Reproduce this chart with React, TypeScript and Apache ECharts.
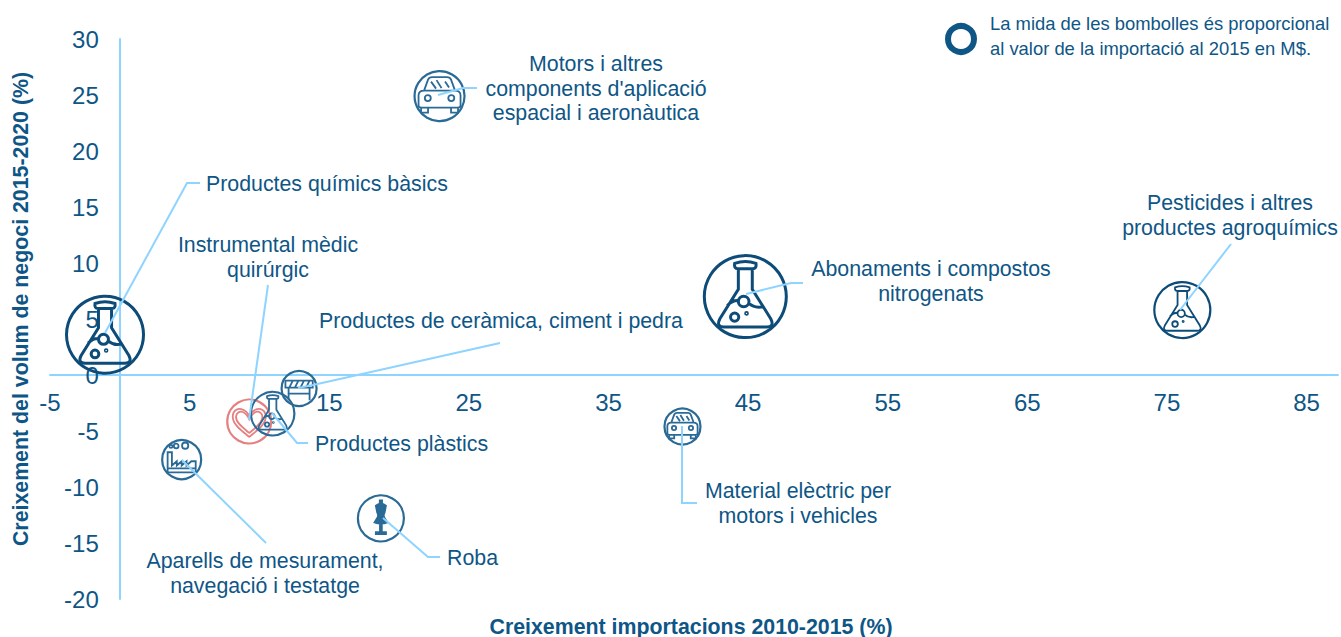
import React, { useEffect, useRef } from "react";
import * as echarts from "echarts";

const sectors = [
  "Productes químics bàsics",
  "Instrumental mèdic quirúrgic",
  "Productes plàstics",
  "Productes de ceràmica, ciment i pedra",
  "Aparells de mesurament, navegació i testatge",
  "Roba",
  "Motors i altres components d'aplicació espacial i aeronàutica",
  "Material elèctric per motors i vehicles",
  "Abonaments i compostos nitrogenats",
  "Pesticides i altres productes agroquímics",
];
const importGrowth = [-1.06, 9.27, 10.95, 12.84, 4.43, 18.7, 22.9, 40.3, 44.8, 76.1];
const businessGrowth = [3.6, -4.15, -3.45, -1.2, -7.56, -12.8, 24.9, -4.6, 7.0, 5.8];
const importValue = [1482, 484, 471, 306, 380, 529, 625, 324, 1681, 784];
const iconNames = ["flask", "heart", "flask", "table", "factory", "dress", "car", "car", "flask", "flask"];
const xTickLabels = [-5, 5, 15, 25, 35, 45, 55, 65, 75, 85];

const INK = "#0e5686";
const RING = "#0d4c78";
const RING_SMALL = "#2a6a96";
const LEADER = "#8ed4ff";
const HEART = "#e57f80";
const FONT = '"Liberation Sans", Arial, sans-serif';
const FS = 21.33;
const TICK_FS = 24;

const circle = (cx: number, cy: number, r: number) =>
  `M${cx + r} ${cy} A${r} ${r} 0 1 1 ${cx - r} ${cy} A${r} ${r} 0 1 1 ${cx + r} ${cy} Z `;

const icons: Record<string, { d: string; fill?: boolean }> = {
  flask: {
    d:
      "M-26 -81 Q0 -90 26 -81 Q28 -68 18 -68 L-18 -68 Q-28 -68 -26 -81 Z " +
      "M-17 -68 L-17 -18 L-62 54 Q-72 74 -52 74 L52 74 Q72 74 62 54 L17 -18 L17 -68 " +
      "M-44 22 Q-30 8 -16 10 M8 16 Q24 30 44 24 " +
      circle(-4, 12, 13) +
      circle(-26, 50, 10) +
      circle(3, 41, 2),
  },
  car: {
    d:
      "M-62 -22 L-46 -66 Q-42 -76 -30 -76 L30 -76 Q42 -76 46 -66 L62 -22 " +
      "M-84 -2 Q-84 -22 -62 -22 L62 -22 Q84 -22 84 -2 L84 38 Q84 46 74 46 L-74 46 Q-84 46 -84 38 Z " +
      "M-74 46 L-74 66 L-46 66 L-46 46 M46 46 L46 66 L74 66 L74 46 " +
      "M-34 -58 L-14 -30 M-12 -64 L8 -32 M22 -58 L38 -34 " +
      circle(-47, 8, 12) +
      circle(47, 8, 12),
  },
  heart: {
    d:
      "M0 70 C-30 45 -75 15 -75 -22 C-75 -50 -50 -62 -32 -55 C-18 -50 -6 -38 0 -25 C6 -38 18 -50 32 -55 C50 -62 75 -50 75 -22 C75 15 30 45 0 70 Z " +
      "M0 52 C-24 32 -60 8 -60 -20 C-60 -40 -42 -48 -30 -43 C-18 -38 -6 -24 0 -10 C6 -24 18 -38 30 -43 C42 -48 60 -40 60 -20 C60 8 24 32 0 52 Z",
  },
  table: {
    d:
      "M-78 -45 L78 -45 L78 -5 L-78 -5 Z M-60 -5 L-60 68 M60 -5 L60 68 M-60 30 L60 30 " +
      "M-56 -5 L-36 -45 M-24 -5 L-4 -45 M8 -5 L28 -45 M40 -5 L60 -45",
  },
  factory: {
    d:
      "M-72 65 L-72 -38 L-50 -38 L-50 30 L-25 8 L-25 30 L0 8 L0 30 L25 8 L25 30 L50 8 L72 8 L72 65 Z " +
      "M-72 45 L72 45 " +
      circle(-55, -68, 8) +
      circle(-28, -70, 12) +
      circle(18, -72, 16),
  },
  dress: {
    fill: true,
    d:
      "M-22 -55 Q0 -72 22 -55 L16 -25 Q10 -15 14 -5 L28 18 Q0 28 -28 18 L-14 -5 Q-10 -15 -16 -25 Z " +
      "M-4 20 L-4 60 L4 60 L4 20 Z M-22 60 L22 60 L22 68 L-22 68 Z M-5 -78 L5 -78 L5 -60 L-5 -60 Z",
  },
};

type Note = { lines: string[]; x: number; y: number; align: "left" | "center" };
const notes: Note[] = [
  { lines: ["Motors i altres", "components d'aplicació", "espacial i aeronàutica"], x: 596, y: 64, align: "center" },
  { lines: ["Productes químics bàsics"], x: 206, y: 183.5, align: "left" },
  { lines: ["Instrumental mèdic", "quirúrgic"], x: 268, y: 245, align: "center" },
  { lines: ["Productes de ceràmica, ciment i pedra"], x: 319, y: 321, align: "left" },
  { lines: ["Productes plàstics"], x: 315, y: 444, align: "left" },
  { lines: ["Aparells de mesurament,", "navegació i testatge"], x: 265, y: 561, align: "center" },
  { lines: ["Roba"], x: 447, y: 558, align: "left" },
  { lines: ["Material elèctric per", "motors i vehicles"], x: 798, y: 491, align: "center" },
  { lines: ["Abonaments i compostos", "nitrogenats"], x: 931, y: 269, align: "center" },
  { lines: ["Pesticides i altres", "productes agroquímics"], x: 1230, y: 203, align: "center" },
];

const leaders: number[][][] = [
  [[105, 333], [187, 183], [200, 183]],
  [[249, 420], [268, 285]],
  [[298, 388], [313, 385], [500, 343]],
  [[272, 413], [297, 443], [308, 443]],
  [[182, 460], [266, 543]],
  [[383, 518], [428, 557], [440, 557]],
  [[682, 426], [682, 503], [697, 503]],
  [[746, 294], [791, 283], [803, 283]],
  [[1180, 310], [1231, 244]],
  [[438, 95], [463, 88], [477, 88]],
];

function buildOption(): any {
  const graphic: any[] = [];
  leaders.forEach((pts) =>
    graphic.push({
      type: "polyline",
      z: 10,
      shape: { points: pts },
      style: { stroke: LEADER, lineWidth: 2, fill: "none" },
    })
  );
  notes.forEach((n) =>
    n.lines.forEach((line, i) =>
      graphic.push({
        type: "text",
        z: 11,
        x: n.x,
        y: n.y + i * 24.5,
        style: {
          text: line,
          fill: INK,
          font: `${FS}px ${FONT}`,
          textAlign: n.align,
          textVerticalAlign: "middle",
        },
      })
    )
  );
  graphic.push({
    type: "circle",
    z: 11,
    shape: { cx: 961, cy: 39, r: 13 },
    style: { fill: "none", stroke: INK, lineWidth: 6 },
  });
  ["La mida de les bombolles és proporcional", "al valor de la importació al 2015 en M$."].forEach((t, i) =>
    graphic.push({
      type: "text",
      z: 11,
      x: 990,
      y: 23 + i * 25,
      style: { text: t, fill: INK, font: `18.4px ${FONT}`, textAlign: "left", textVerticalAlign: "middle" },
    })
  );

  return {
    animation: false,
    backgroundColor: "#ffffff",
    textStyle: { fontFamily: FONT },
    grid: { left: 50, right: 3, top: 39, bottom: 38, containLabel: false, outerBoundsMode: "none" },
    xAxis: {
      type: "value",
      min: -5,
      max: 87.25,
      position: "bottom",
      offset: -224,
      name: "Creixement importacions 2010-2015 (%)",
      nameLocation: "middle",
      nameGap: 241,
      nameTextStyle: { color: INK, fontSize: FS, fontWeight: "bold", fontFamily: FONT, padding: [0, 6, 0, 0] },
      axisLine: { onZero: false, lineStyle: { color: LEADER, width: 2 } },
      axisTick: { show: false },
      splitLine: { show: false },
      axisLabel: { customValues: xTickLabels, color: INK, fontSize: TICK_FS, fontFamily: FONT, margin: 15, hideOverlap: false },
    },
    yAxis: {
      type: "value",
      min: -20,
      max: 30,
      interval: 5,
      position: "left",
      offset: -69.8,
      name: "Creixement del volum de negoci 2015-2020 (%)",
      nameLocation: "middle",
      nameGap: 88,
      nameTextStyle: { color: INK, fontSize: FS, fontWeight: "bold", fontFamily: FONT, padding: [0, 0, 0, 20] },
      axisLine: { onZero: false, lineStyle: { color: LEADER, width: 2 } },
      axisTick: { show: false },
      splitLine: { show: false },
      axisLabel: { color: INK, fontSize: TICK_FS, fontFamily: FONT, margin: 21, padding: [0, 0, 3, 0] },
    },
    series: [
      {
        type: "custom",
        name: "Sectors",
        coordinateSystem: "cartesian2d",
        clip: false,
        z: 3,
        data: sectors.map((s, i) => ({ name: s, value: [importGrowth[i], businessGrowth[i], importValue[i]] })),
        renderItem: (params: any, api: any) => {
          const i = params.dataIndex;
          const [cx, cy] = api.coord([api.value(0), api.value(1)]);
          const r = Math.sqrt(api.value(2));
          const icon = icons[iconNames[i]];
          const color = iconNames[i] === "heart" ? HEART : r > 27 ? RING : RING_SMALL;
          const lw = r > 30 ? 3 : 2.2;
          const k = r / 100;
          return {
            type: "group",
            x: cx,
            y: cy,
            children: [
              { type: "circle", shape: { cx: 0, cy: 0, r }, style: { fill: "none", stroke: color, lineWidth: lw } },
              {
                type: "path",
                scaleX: k,
                scaleY: k,
                shape: { pathData: icon.d },
                style: {
                  fill: icon.fill ? color : "none",
                  stroke: color,
                  lineWidth: (r > 30 ? 3 : 1.8) / k,
                },
              },
            ],
          };
        },
      },
    ],
    graphic: { elements: graphic },
  };
}

export default function App() {
  const ref = useRef<HTMLDivElement>(null);
  useEffect(() => {
    const chart = echarts.init(ref.current!, undefined, { renderer: "svg" });
    chart.setOption(buildOption());
    return () => chart.dispose();
  }, []);
  return <div ref={ref} style={{ position: "fixed", left: 0, top: 0, width: 1341, height: 637 }} />;
}
